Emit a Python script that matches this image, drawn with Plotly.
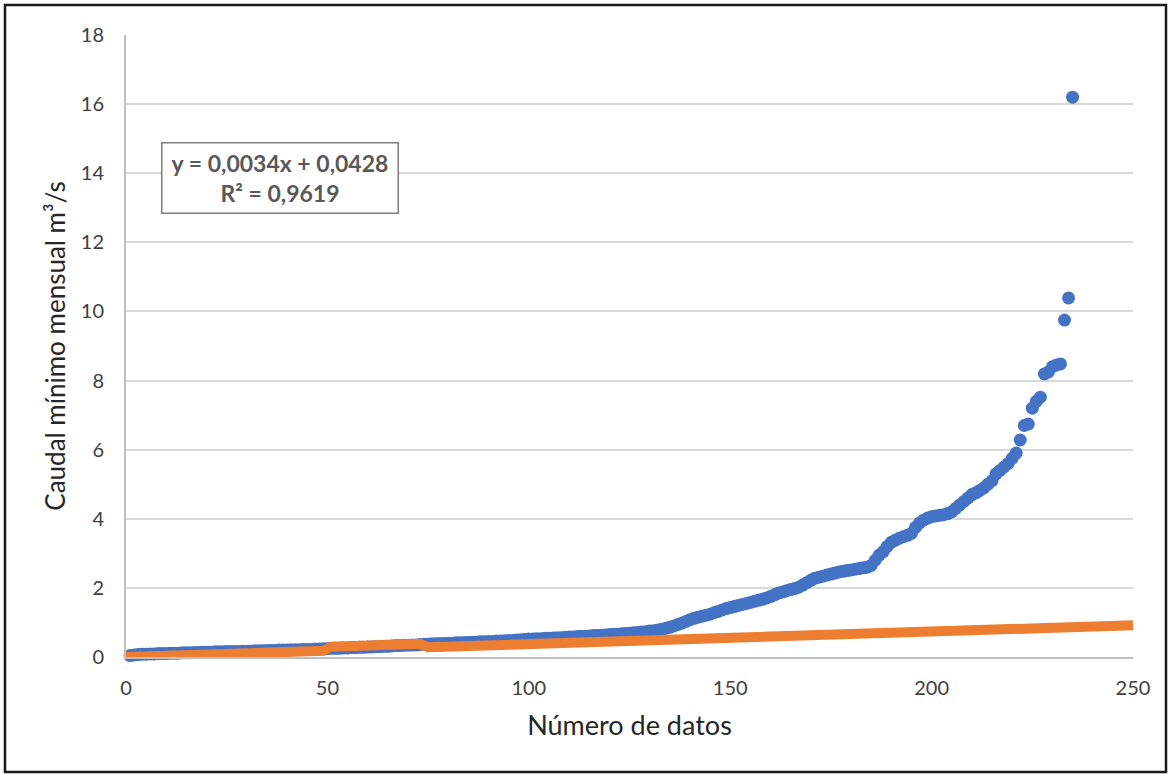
import plotly.graph_objects as go

# Blue series: monthly minimum flow, sorted (m3/s), point number 1..235
caudal = [
    0.04, 0.06, 0.07, 0.08, 0.08, 0.09, 0.09, 0.10, 0.10, 0.10,
    0.11, 0.11, 0.11, 0.12, 0.12, 0.12, 0.13, 0.13, 0.14, 0.14,
    0.14, 0.15, 0.15, 0.15, 0.16, 0.16, 0.16, 0.16, 0.17, 0.17,
    0.17, 0.18, 0.18, 0.18, 0.19, 0.19, 0.19, 0.20, 0.20, 0.20,
    0.21, 0.21, 0.21, 0.22, 0.22, 0.22, 0.23, 0.23, 0.24, 0.24,
    0.25, 0.25, 0.25, 0.26, 0.26, 0.27, 0.27, 0.28, 0.28, 0.29,
    0.29, 0.30, 0.30, 0.31, 0.31, 0.32, 0.33, 0.33, 0.34, 0.34,
    0.35, 0.35, 0.36, 0.37, 0.37, 0.38, 0.38, 0.39, 0.39, 0.40,
    0.40, 0.41, 0.41, 0.42, 0.42, 0.43, 0.43, 0.44, 0.44, 0.45,
    0.45, 0.46, 0.46, 0.47, 0.48, 0.48, 0.49, 0.50, 0.51, 0.52,
    0.52, 0.53, 0.53, 0.54, 0.54, 0.55, 0.56, 0.56, 0.57, 0.58,
    0.58, 0.59, 0.60, 0.60, 0.61, 0.62, 0.62, 0.63, 0.64, 0.65,
    0.66, 0.66, 0.67, 0.68, 0.69, 0.70, 0.71, 0.72, 0.73, 0.75,
    0.76, 0.78, 0.80, 0.83, 0.86, 0.90, 0.94, 0.98, 1.03, 1.08,
    1.12, 1.15, 1.18, 1.21, 1.24, 1.28, 1.32, 1.36, 1.40, 1.43,
    1.46, 1.49, 1.52, 1.55, 1.58, 1.61, 1.64, 1.67, 1.71, 1.75,
    1.80, 1.85, 1.88, 1.92, 1.95, 1.98, 2.02, 2.08, 2.15, 2.22,
    2.28, 2.31, 2.34, 2.37, 2.40, 2.43, 2.46, 2.48, 2.50, 2.52,
    2.54, 2.56, 2.58, 2.60, 2.65, 2.80, 2.95, 3.05, 3.20, 3.32,
    3.38, 3.44, 3.48, 3.52, 3.58, 3.75, 3.88, 3.96, 4.02, 4.06,
    4.08, 4.10, 4.12, 4.15, 4.20, 4.30, 4.40, 4.50, 4.60, 4.70,
    4.75, 4.82, 4.90, 5.00, 5.10, 5.30, 5.40, 5.50, 5.60, 5.75,
    5.90, 6.28, 6.70, 6.74, 7.20, 7.40, 7.52, 8.19, 8.25, 8.40,
    8.45, 8.48, 9.75, 10.39, 16.20,
]
numero = list(range(1, len(caudal) + 1))

# Orange series
naranja_x = [0, 49, 51, 73, 75, 250]
naranja_y = [0.0, 0.18, 0.30, 0.38, 0.28, 0.92]

x_ticks = [0, 50, 100, 150, 200, 250]
y_ticks = [0, 2, 4, 6, 8, 10, 12, 14, 16, 18]

ecuacion = "y = 0,0034x + 0,0428<br>R² = 0,9619"

FONT = "Lato"

fig = go.Figure()
fig.add_trace(go.Scatter(
    x=numero, y=caudal, mode="markers",
    marker=dict(color="#4472C4", size=13, line=dict(width=0)),
    cliponaxis=False, showlegend=False,
))
fig.add_trace(go.Scatter(
    x=naranja_x, y=naranja_y, mode="lines",
    line=dict(color="#ED7D31", width=10),
    cliponaxis=False, showlegend=False, hoverinfo="skip",
))

fig.update_layout(
    width=1170, height=774,
    margin=dict(l=126, r=37, t=35, b=117),
    paper_bgcolor="white", plot_bgcolor="white",
    font=dict(family=FONT, color="#404040"),
    xaxis=dict(
        range=[0, 250], tickvals=x_ticks, showgrid=False, zeroline=False,
        showline=True, linecolor="#BFBFBF", linewidth=2,
        ticks="", ticklabelstandoff=12, tickfont=dict(size=20, color="#404040"),
        title=dict(text="Número de datos", font=dict(size=27, color="#262626"), standoff=18),
    ),
    yaxis=dict(
        range=[0, 18], tickvals=y_ticks, showgrid=True, gridcolor="#D9D9D9", gridwidth=2,
        zeroline=False, showline=True, linecolor="#BFBFBF", linewidth=2,
        ticks="", ticklabelstandoff=16, tickfont=dict(size=20, color="#404040"),
        title=dict(text="Caudal mínimo mensual m³/s", font=dict(size=26, color="#262626"), standoff=8),
    ),
    annotations=[dict(
        text="<b>" + ecuacion + "</b>",
        xref="paper", yref="paper",
        x=(280 - 126) / 1007, y=(657 - 178.5) / 622,
        xanchor="center", yanchor="middle",
        showarrow=False, align="center",
        font=dict(family=FONT, size=23, color="#595959"),
        bordercolor="#7F7F7F", borderwidth=1.5, borderpad=1,
        width=233, height=67, bgcolor="white",
    )],
    shapes=[dict(
        type="rect", xref="paper", yref="paper",
        x0=(5 - 126) / 1007, x1=(1166 - 126) / 1007,
        y0=(657 - 772) / 622, y1=(657 - 5) / 622,
        line=dict(color="#1a1a1a", width=2.5), layer="above",
    )],
)

fig.write_html("out.html")
